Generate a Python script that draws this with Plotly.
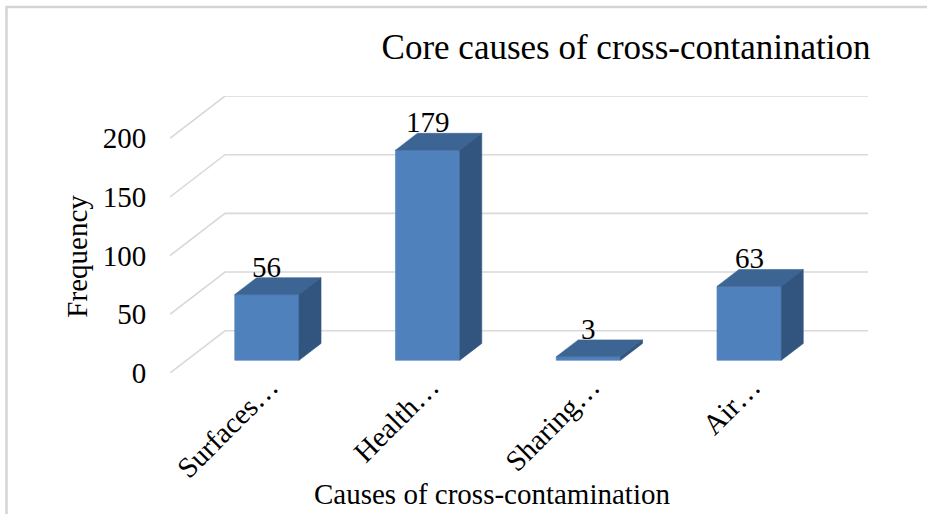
import plotly.graph_objects as go

# ---- data ----
categories = ["Surfaces…", "Health…", "Sharing…", "Air…"]
frequency = [56, 179, 3, 63]
y_ticks = [0, 50, 100, 150, 200]

title_text = "Core causes of cross-contanination"
x_title = "Causes of cross-contamination"
y_title = "Frequency"

# ---- style / geometry ----
W, H = 927, 514
ML, MR, MT, MB = 170, 59, 96, 141
PW = W - ML - MR          # plot width px
PH = H - MT - MB          # plot height px
N = len(categories)
CAT_PX = (PW - 55) / N    # pixels per category on the front plane
DX = 55 / CAT_PX          # depth offset in category units
DY = 36.0                 # depth offset in value units
YMAX = 200 + DY
BAR_W = 0.4
F0, F1 = 0.3, 0.7         # bar front/back depth fractions

FONT = "Times New Roman, Liberation Serif, serif"
FRONT = "#4f81bd"
TOP = "#3d6594"
SIDE = "#32557f"
GRID = "#d9d9d9"
BORDER = "#d4d4d4"

def px_to_paper_x(px):
    return (px - ML) / PW

def px_to_paper_y(py):
    return (H - MB - py) / PH

fig = go.Figure()

# back wall + side wall gridlines
gx, gy = [], []
for v in y_ticks:
    gx += [0, DX, N + DX, None]
    gy += [v, v + DY, v + DY, None]
fig.add_trace(go.Scatter(x=gx, y=gy, mode="lines",
                         line=dict(color=GRID, width=1.6),
                         hoverinfo="skip", showlegend=False))

# pseudo-3D bars
bdx = (F1 - F0) * DX
bdy = (F1 - F0) * DY
for i, v in enumerate(frequency):
    cx = i + 0.5
    xl = cx - BAR_W / 2 + F0 * DX
    xr = cx + BAR_W / 2 + F0 * DX
    y0 = F0 * DY
    y1 = v + F0 * DY
    faces = [
        ([xl, xr, xr, xl, xl], [y0, y0, y1, y1, y0], FRONT),
        ([xl, xr, xr + bdx, xl + bdx, xl], [y1, y1, y1 + bdy, y1 + bdy, y1], TOP),
        ([xr, xr + bdx, xr + bdx, xr, xr], [y0, y0 + bdy, y1 + bdy, y1, y0], SIDE),
    ]
    for fx, fy, col in faces:
        fig.add_trace(go.Scatter(x=fx, y=fy, mode="lines", fill="toself",
                                 fillcolor=col, line=dict(color=col, width=0.6),
                                 hoverinfo="skip", showlegend=False))
    fig.add_annotation(x=(xl + xr) / 2, y=y1 + bdy, xref="x", yref="y",
                       text=str(v), showarrow=False, yanchor="bottom",
                       yshift=-7, font=dict(family=FONT, size=29, color="#000000"))

# axis titles
fig.add_annotation(x=N / 2, xref="x", y=px_to_paper_y(494), yref="paper",
                   text=x_title, showarrow=False, yanchor="middle",
                   font=dict(family=FONT, size=29, color="#000000"))
fig.add_annotation(x=px_to_paper_x(77), xref="paper", y=100, yref="y",
                   text=y_title, showarrow=False, textangle=-90,
                   xanchor="center", yanchor="middle",
                   font=dict(family=FONT, size=29, color="#000000"))

# chart border (top and left edges visible), drawn as one open path
border_path = "M {x0},{y1} L {x0},{y0} L {x1},{y0}".format(
    x0=px_to_paper_x(6.5), y0=px_to_paper_y(7),
    x1=px_to_paper_x(W + 5), y1=px_to_paper_y(H + 5))
fig.add_shape(type="path", xref="paper", yref="paper", path=border_path,
              line=dict(color=BORDER, width=2.5), layer="above")

fig.update_layout(
    width=W, height=H,
    margin=dict(l=ML, r=MR, t=MT, b=MB, pad=0),
    paper_bgcolor="white", plot_bgcolor="white",
    showlegend=False,
    title=dict(text=title_text, x=626 / W, xanchor="center",
               y=1 - 47 / H, yanchor="middle",
               font=dict(family=FONT, size=35, color="#000000")),
    xaxis=dict(range=[0, N + DX], showgrid=False, zeroline=False, showline=False,
               tickmode="array",
               tickvals=[i + 0.5 + F0 * DX for i in range(N)],
               ticktext=categories, tickangle=-45,
               ticks="", ticklabelstandoff=-10, ticklabelshift=3,
               tickfont=dict(family=FONT, size=29, color="#000000"),
               fixedrange=True),
    yaxis=dict(range=[0, YMAX], showgrid=False, zeroline=False, showline=False,
               tickmode="array", tickvals=y_ticks,
               ticktext=[str(t) for t in y_ticks],
               ticks="outside", ticklen=17, tickcolor="rgba(0,0,0,0)",
               tickfont=dict(family=FONT, size=29, color="#000000"),
               fixedrange=True),
)

fig.write_html("out.html",
               config={"displayModeBar": False},
               post_script="document.body.style.margin='0';"
                           "document.body.style.overflow='hidden';")
